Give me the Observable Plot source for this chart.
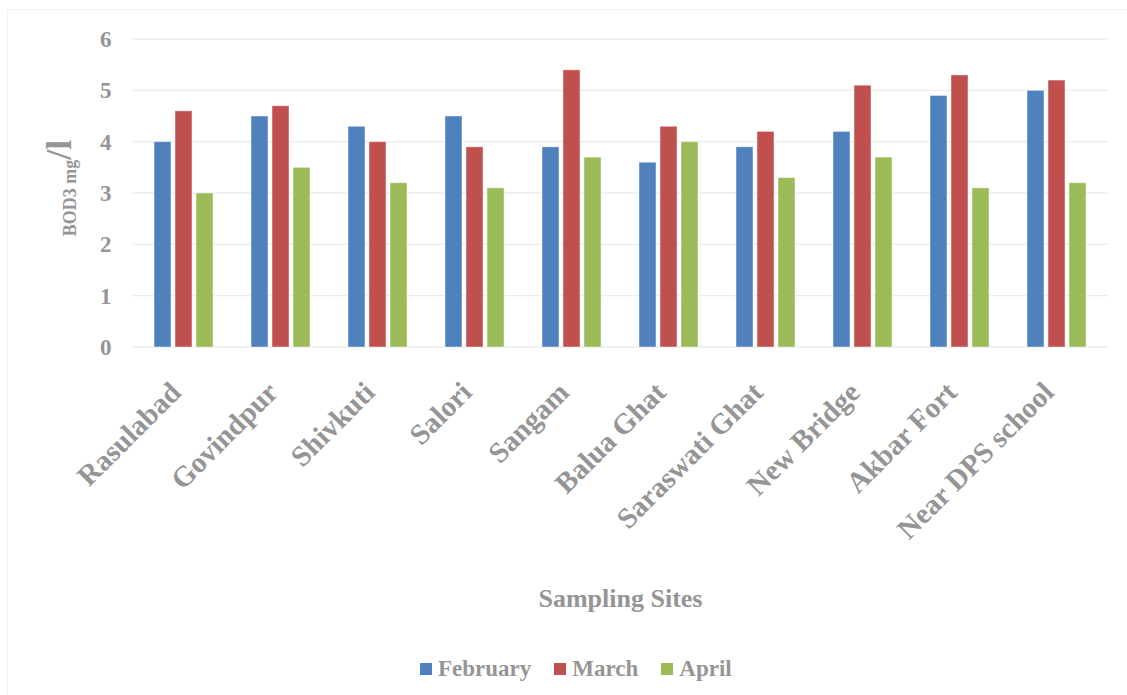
<!DOCTYPE html>
<html>
<head>
<meta charset="utf-8">
<script src="https://cdn.jsdelivr.net/npm/d3@7"></script>
<script src="https://cdn.jsdelivr.net/npm/@observablehq/plot@0.6"></script>
<style>
  html, body { margin: 0; padding: 0; background: #fff; }
  #wrap { position: relative; width: 1127px; height: 695px; overflow: hidden; }
  #frame { position: absolute; left: 7px; top: 9px; width: 1130px; height: 700px; border-left: 1px solid #f2f2f2; border-top: 1px solid #f2f2f2; }
  #chart { position: absolute; left: 0; top: 0; }
  #legend { position: absolute; left: 420px; top: 656px; display: flex; align-items: center;
    font-family: "Liberation Serif", "Times New Roman", serif; font-weight: bold; font-size: 23px; color: #959595; }
  #legend .item { display: flex; align-items: center; margin-right: 23px; }
  #legend .sw { width: 12px; height: 12px; margin-right: 6px; }
</style>
</head>
<body>
<div id="wrap">
  <div id="frame"></div>
  <div id="chart"></div>
  <div id="legend"></div>
</div>
<script>
const sites = ["Rasulabad", "Govindpur", "Shivkuti", "Salori", "Sangam", "Balua Ghat", "Saraswati Ghat", "New Bridge", "Akbar Fort", "Near DPS school"];
const months = ["February", "March", "April"];
const february = [4.0, 4.5, 4.3, 4.5, 3.9, 3.6, 3.9, 4.2, 4.9, 5.0];
const march    = [4.6, 4.7, 4.0, 3.9, 5.4, 4.3, 4.2, 5.1, 5.3, 5.2];
const april    = [3.0, 3.5, 3.2, 3.1, 3.7, 4.0, 3.3, 3.7, 3.1, 3.2];
const yTicks = [0, 1, 2, 3, 4, 5, 6];
const colors = ["#4F81BD", "#C0504D", "#9BBB59"];

const series = [february, march, april];
const data = [];
sites.forEach((s, i) => months.forEach((m, j) => data.push({site: s, month: m, value: series[j][i]})));

const serif = "'Liberation Serif', 'Times New Roman', serif";
const gray = "#959595";
const W = 1127, H = 640, ML = 131, MR = 19, MT = 39, MB = 293;

const chart = Plot.plot({
  width: W,
  height: H,
  marginTop: MT,
  marginBottom: MB,
  marginLeft: ML,
  marginRight: MR,
  style: {fontFamily: serif, fontWeight: "bold", color: gray, background: "transparent"},
  fx: {domain: sites, paddingInner: 0.31, paddingOuter: 0.15, label: null},
  x: {domain: months, padding: 0.19, axis: null},
  y: {domain: [0, 6], ticks: yTicks, label: null},
  color: {domain: months, range: colors},
  marks: [
    Plot.barY(data, {fx: "site", x: "month", y: "value", fill: "month", stroke: "#ffffff", strokeOpacity: 0.45, strokeWidth: 1}),
    Plot.axisY(yTicks, {tickSize: 0, tickPadding: 39, fontSize: 23, fill: gray, label: null, tickFormat: d3.format("d")}),
    Plot.axisFx({anchor: "bottom", tickSize: 0, tickRotate: -45, fontSize: 29, fill: gray, tickPadding: 18, dy: 22, dx: -8, label: null}),
    Plot.text(["Sampling Sites"], {frameAnchor: "bottom", dy: 259, fontSize: 26, fill: gray, fontWeight: "bold", facet: "super"})
  ]
});
document.getElementById("chart").appendChild(chart);

const svg = d3.select(chart);
// full-width gridlines from the plot's own y scale, drawn beneath the bars
const ys = chart.scale("y");
const grid = svg.insert("g", ":first-child").attr("stroke", "#ececec").attr("stroke-width", 1.3);
yTicks.forEach(t => {
  const yy = ys.apply(t);
  grid.append("line").attr("x1", ML + 2).attr("x2", W - MR).attr("y1", yy).attr("y2", yy);
});

// y-axis label with mixed sizes
const yl = svg.append("text")
  .attr("transform", "translate(76,188) rotate(-90)")
  .attr("text-anchor", "middle")
  .attr("font-family", serif)
  .attr("font-weight", "bold")
  .attr("fill", gray);
yl.append("tspan").attr("font-size", 18).text("BOD3 mg");
yl.append("tspan").attr("font-size", 36).attr("dy", "-0.15em").text("/l");

// legend
const lg = d3.select("#legend");
months.forEach((m, i) => {
  const it = lg.append("div").attr("class", "item");
  it.append("div").attr("class", "sw").style("background", colors[i]);
  it.append("span").text(m);
});
</script>
</body>
</html>
